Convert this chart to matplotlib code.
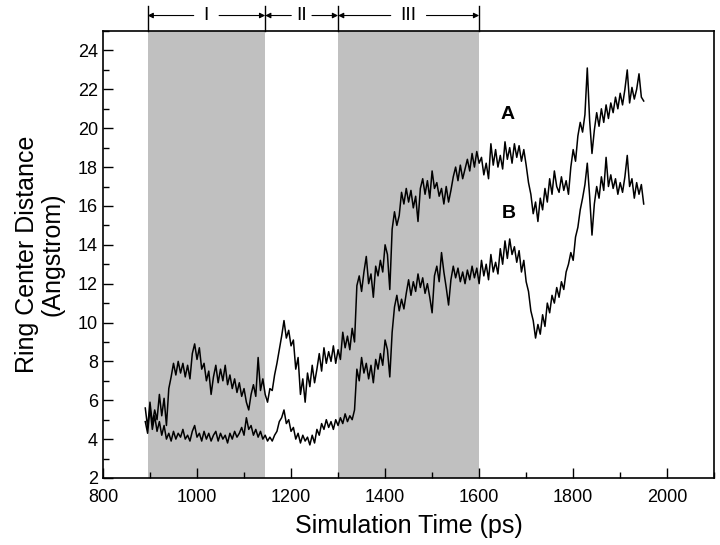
import numpy as np
import matplotlib
matplotlib.use('Agg')
import matplotlib.pyplot as plt
from matplotlib.ticker import MultipleLocator

plt.rcParams['font.family'] = ['Liberation Sans', 'DejaVu Sans']

# time axis (ps), one sample every 5 ps
time_ps = np.arange(890, 1951, 5)

# trace A (upper)
dist_a = [
    5.6, 4.6, 5.9, 4.8, 5.5, 5.0, 6.3, 5.2, 6.1, 4.7,
    6.6, 7.2, 7.9, 7.3, 8.0, 7.4, 7.9, 7.2, 7.8, 7.1,
    8.4, 8.9, 8.1, 8.7, 7.6, 7.9, 7.0, 7.5, 6.3, 7.2,
    7.8, 6.9, 7.6, 7.0, 7.8, 6.8, 7.3, 6.6, 7.1, 6.4,
    6.9, 6.2, 6.6, 5.9, 5.5, 6.3, 6.8, 6.2, 8.2, 6.5,
    7.1, 6.3, 5.9, 6.6, 6.5, 7.3, 7.9, 8.6, 9.3, 10.1,
    9.2, 9.6, 8.8, 9.1, 7.6, 8.2, 6.3, 7.1, 5.9, 7.4,
    6.7, 7.8, 6.9, 7.6, 8.4, 7.5, 8.7, 7.9, 8.5, 8.0,
    8.8, 7.9, 8.6, 8.1, 9.5, 8.7, 9.3, 8.6, 9.7, 9.0,
    11.9, 12.4, 11.6, 12.6, 13.4, 12.0, 12.5, 11.3, 12.9, 12.4,
    13.2, 12.6, 14.0, 13.5, 11.7, 14.8, 15.7, 15.0, 15.5, 16.7,
    16.1, 16.9, 16.2, 16.8, 15.9, 16.5, 15.2, 16.9, 17.4, 16.6,
    17.3, 16.4, 17.8, 16.9, 17.2, 16.5, 16.9, 16.1, 17.0, 16.2,
    16.8, 17.5, 18.0, 17.3, 18.1, 17.4, 17.9, 18.4, 17.8, 18.7,
    18.0, 18.8, 18.2, 18.5, 17.6, 18.2, 17.4, 19.2, 18.1, 18.9,
    18.0, 18.6, 17.9, 19.3, 18.4, 19.0, 18.2, 19.2, 18.5, 19.1,
    18.3, 18.9, 18.1, 17.2, 16.6, 15.6, 16.2, 15.2, 16.4, 15.8,
    16.9, 16.2, 17.4, 16.6, 17.8, 17.0, 16.7, 17.5, 16.8, 17.3,
    16.6, 18.0, 18.9, 18.3, 19.6, 20.3, 19.8, 20.7, 23.1, 20.4,
    18.7, 19.9, 20.8, 20.1, 21.0, 20.3, 21.2, 20.5, 21.3, 20.8,
    21.6, 21.0, 21.8, 21.2, 22.0, 23.0, 21.3, 22.1, 21.5, 22.0,
    22.8, 21.6, 21.4,
]

# trace B (lower)
dist_b = [
    4.9, 4.3, 5.6, 4.5, 5.2, 4.4, 4.9, 4.2, 4.7, 4.0,
    4.3, 3.9, 4.4, 4.0, 4.3, 4.1, 4.5, 4.0, 4.2, 3.9,
    4.4, 4.7, 4.1, 4.3, 3.9, 4.4, 4.0, 4.3, 3.9, 4.2,
    4.4, 3.9, 4.3, 4.0, 4.2, 3.8, 4.3, 4.0, 4.4, 4.1,
    4.3, 4.6, 4.2, 5.1, 4.5, 4.7, 4.2, 4.5, 4.1, 4.4,
    4.0, 4.2, 3.9, 4.1, 3.9, 4.2, 4.4, 4.9, 5.1, 5.5,
    4.8, 5.0, 4.4, 4.6, 4.0, 4.3, 3.8, 4.2, 3.9, 4.1,
    3.7, 4.2, 3.8, 4.5, 4.2, 4.8, 4.5, 5.0, 4.6, 4.9,
    4.5, 5.0, 4.7, 5.1, 4.8, 5.3, 4.9, 5.2, 5.0, 5.5,
    7.6, 7.0, 8.2, 7.4, 7.9, 7.1, 7.8, 6.9, 8.1, 7.6,
    8.4, 7.8, 9.1, 8.6, 7.2, 9.5, 10.8, 11.4, 10.6, 11.2,
    10.7, 11.5, 12.2, 11.4, 12.1, 11.6, 12.5, 11.8, 12.3, 11.5,
    12.0, 11.3, 10.5, 12.4, 12.9, 12.1, 13.6, 12.6, 11.8, 10.9,
    12.2, 12.9, 12.3, 12.8, 12.1, 12.6, 12.0, 12.7, 12.2, 12.9,
    12.3, 12.8, 12.0, 13.2, 12.4, 13.0, 12.2, 13.5, 12.6, 13.1,
    12.5, 13.8, 13.0, 14.2, 13.3, 14.3, 13.5, 13.9, 13.1, 13.7,
    12.6, 13.2, 12.1, 11.6, 10.6, 10.1, 9.2, 9.9, 9.4, 10.4,
    9.8, 11.0, 10.5, 11.4, 11.0, 11.8, 11.3, 12.1, 11.7, 12.6,
    13.0, 13.6, 13.2, 14.4, 14.9, 15.8, 16.4, 17.1, 18.2, 16.5,
    14.5, 16.1, 17.0, 16.4, 17.5, 16.8, 18.5, 17.0, 17.6, 16.9,
    17.4, 16.6, 17.2, 16.7, 17.5, 18.6, 17.0, 17.4, 16.4, 17.2,
    16.6, 17.1, 16.1,
]

# shaded stages
stage_names = ['I', 'II', 'III']
stage_edges = [895, 1145, 1300, 1600]
shaded = [(895, 1145), (1300, 1600)]

fig = plt.figure(figsize=(7.2, 5.45), dpi=100)
ax = fig.add_axes([0.143, 0.123, 0.849, 0.820])

for a, b in shaded:
    ax.axvspan(a, b, color='#c0c0c0', lw=0, zorder=0)

ax.plot(time_ps, dist_a, color='black', lw=1.1)
ax.plot(time_ps, dist_b, color='black', lw=1.1)

ax.text(1660, 20.7, 'A', fontsize=14, fontweight='bold', ha='center', va='center')
ax.text(1664, 15.6, 'B', fontsize=14, fontweight='bold', ha='center', va='center')

ax.set_xlim(800, 2100)
ax.set_ylim(2, 25)
ax.xaxis.set_major_locator(MultipleLocator(200))
ax.xaxis.set_minor_locator(MultipleLocator(100))
ax.yaxis.set_major_locator(MultipleLocator(2))
ax.yaxis.set_minor_locator(MultipleLocator(1))
ax.tick_params(which='both', direction='in', labelsize=13, width=1, top=False, right=False)
ax.tick_params(which='major', length=7)
ax.tick_params(which='minor', length=4)
ax.tick_params(axis='x', pad=8)
for s in ax.spines.values():
    s.set_linewidth(1.2)

ax.set_xlabel('Simulation Time (ps)', fontsize=18, labelpad=6)
ax.set_ylabel('Ring Center Distance\n(Angstrom)', fontsize=18, labelpad=10, linespacing=1.05)

# stage markers above the plot
y_bar_top = 26.3
y_arrow = 25.8
for e in stage_edges:
    ax.plot([e, e], [25, y_bar_top], color='black', lw=1, clip_on=False)
gaps = [27, 22, 38]
for name, left, right, gap in zip(stage_names, stage_edges[:-1], stage_edges[1:], gaps):
    mid = (left + right) / 2
    ax.text(mid, y_arrow, name, fontsize=14, ha='center', va='center')
    for end, start in [(left, mid - gap), (right, mid + gap)]:
        ax.annotate('', xy=(end, y_arrow), xytext=(start, y_arrow),
                    arrowprops=dict(arrowstyle='-|>', color='black', lw=0.8,
                                    mutation_scale=8, shrinkA=0, shrinkB=0),
                    annotation_clip=False)

fig.savefig('out.png', dpi=100)
